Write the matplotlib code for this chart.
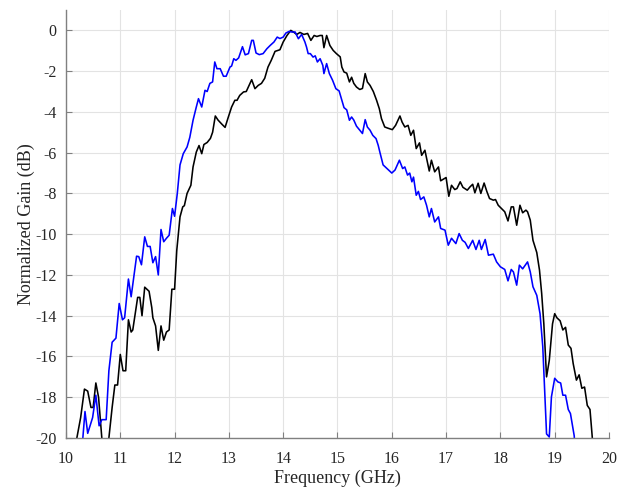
import numpy as np
import matplotlib
matplotlib.use('Agg')
import matplotlib.pyplot as plt

# Courbe noire (fréquence GHz, gain normalisé dB)
freq_black = [10.10, 10.20, 10.27, 10.34, 10.40, 10.46, 10.50, 10.55, 10.60, 10.66, 10.72, 10.79,
              10.85, 10.90, 10.95, 11.00, 11.05, 11.10, 11.15, 11.20, 11.23, 11.32, 11.36, 11.40,
              11.45, 11.53, 11.58, 11.60, 11.65, 11.70, 11.75, 11.80, 11.85, 11.90, 11.95, 12.00,
              12.04, 12.10, 12.15, 12.18, 12.23, 12.30, 12.34, 12.40, 12.45, 12.50, 12.54, 12.60,
              12.66, 12.70, 12.75, 12.80, 12.87, 12.93, 12.99, 13.05, 13.11, 13.15, 13.20, 13.27,
              13.32, 13.39, 13.42, 13.48, 13.54, 13.60, 13.66, 13.72, 13.78, 13.85, 13.94, 14.00,
              14.07, 14.14, 14.20, 14.25, 14.31, 14.38, 14.45, 14.51, 14.57, 14.62, 14.68, 14.72,
              14.75, 14.80, 14.86, 14.92, 14.98, 15.05, 15.08, 15.12, 15.17, 15.22, 15.26, 15.30,
              15.35, 15.41, 15.46, 15.51, 15.55, 15.60, 15.66, 15.72, 15.77, 15.81, 15.87, 15.93,
              16.01, 16.07, 16.15, 16.19, 16.24, 16.30, 16.35, 16.40, 16.45, 16.51, 16.55, 16.61,
              16.69, 16.73, 16.79, 16.86, 16.90, 17.00, 17.05, 17.10, 17.16, 17.20, 17.26, 17.31,
              17.39, 17.44, 17.49, 17.53, 17.59, 17.64, 17.70, 17.75, 17.80, 17.87, 17.91, 17.96,
              18.02, 18.08, 18.14, 18.20, 18.24, 18.30, 18.36, 18.41, 18.47, 18.50, 18.55, 18.60,
              18.67, 18.72, 18.76, 18.80, 18.85, 18.90, 18.96, 19.00, 19.04, 19.10, 19.15, 19.20,
              19.25, 19.30, 19.34, 19.40, 19.45, 19.50, 19.55, 19.60, 19.65, 19.69, 19.72]
gain_black = [-21.0, -20.0, -19.0, -17.6, -17.7, -18.5, -18.5, -17.3, -18.0, -20.0, -21.0, -20.0,
              -18.5, -17.4, -17.4, -15.9, -16.7, -16.7, -14.2, -14.8, -14.7, -13.1, -13.1, -14.0,
              -12.6, -12.8, -13.6, -14.1, -14.5, -15.7, -14.5, -15.2, -14.8, -14.7, -12.7, -12.7,
              -10.8, -9.15, -8.66, -8.6, -8.0, -7.6, -6.7, -5.97, -5.65, -6.05, -5.6, -5.5,
              -5.3, -5.0, -4.2, -4.4, -4.6, -4.76, -4.25, -3.76, -3.43, -3.43, -3.19, -3.02,
              -3.0, -2.6, -2.42, -2.86, -2.7, -2.6, -2.35, -1.8, -1.47, -1.03, -0.95, -0.57,
              -0.25, 0.0, -0.1, -0.2, -0.1, -0.2, -0.15, -0.49, -0.25, -0.3, -0.25, -0.25,
              -0.85, -0.25, -0.74, -0.98, -1.14, -1.3, -1.8, -2.04, -2.1, -2.53, -2.3, -2.6,
              -2.78, -2.9, -2.85, -2.12, -2.53, -2.7, -3.0, -3.43, -3.84, -4.33, -4.74, -4.8,
              -4.87, -4.66, -4.2, -4.5, -4.74, -4.66, -5.15, -4.9, -5.8, -5.52, -6.13, -5.88,
              -6.9, -6.37, -6.94, -6.7, -7.38, -7.22, -8.14, -7.6, -7.81, -7.76, -7.43, -7.7,
              -7.84, -7.68, -7.55, -7.97, -7.5, -8.0, -7.49, -7.9, -8.25, -8.33, -8.3, -8.58,
              -8.74, -8.9, -9.35, -8.66, -8.66, -9.56, -8.58, -8.95, -8.82, -8.9, -9.31, -10.3,
              -10.9, -11.76, -12.9, -14.4, -17.0, -16.2, -14.4, -13.9, -14.1, -14.25, -14.7, -14.57,
              -15.44, -15.6, -16.34, -17.16, -16.9, -17.56, -17.5, -18.4, -18.6, -19.9, -21.0]

# Courbe bleue
freq_blue = [10.28, 10.31, 10.35, 10.40, 10.49, 10.55, 10.61, 10.66, 10.74, 10.79, 10.85, 10.92,
             10.98, 11.04, 11.08, 11.15, 11.20, 11.30, 11.34, 11.39, 11.45, 11.50, 11.55, 11.60,
             11.65, 11.70, 11.75, 11.80, 11.85, 11.90, 11.96, 12.00, 12.05, 12.10, 12.16, 12.23,
             12.28, 12.34, 12.40, 12.44, 12.50, 12.56, 12.60, 12.65, 12.70, 12.74, 12.78, 12.84,
             12.90, 12.95, 13.02, 13.05, 13.09, 13.13, 13.18, 13.25, 13.30, 13.36, 13.42, 13.45,
             13.50, 13.56, 13.63, 13.70, 13.76, 13.83, 13.89, 13.94, 14.00, 14.05, 14.11, 14.16,
             14.22, 14.28, 14.34, 14.40, 14.43, 14.46, 14.50, 14.55, 14.59, 14.63, 14.68, 14.73,
             14.75, 14.80, 14.85, 14.91, 14.97, 15.03, 15.08, 15.12, 15.17, 15.22, 15.26, 15.30,
             15.35, 15.41, 15.46, 15.51, 15.55, 15.60, 15.65, 15.71, 15.75, 15.78, 15.84, 15.90,
             16.00, 16.06, 16.14, 16.20, 16.24, 16.29, 16.33, 16.37, 16.40, 16.45, 16.49, 16.53,
             16.59, 16.64, 16.69, 16.73, 16.79, 16.86, 16.90, 16.98, 17.04, 17.10, 17.18, 17.24,
             17.30, 17.35, 17.41, 17.49, 17.55, 17.61, 17.65, 17.72, 17.78, 17.87, 17.93, 18.00,
             18.08, 18.14, 18.20, 18.24, 18.30, 18.35, 18.41, 18.50, 18.55, 18.60, 18.67, 18.73,
             18.78, 18.82, 18.85, 18.90, 18.94, 19.00, 19.06, 19.11, 19.15, 19.20, 19.25, 19.29,
             19.36, 19.38]
gain_blue = [-21.0, -20.0, -18.7, -19.77, -19.0, -17.9, -19.4, -19.1, -19.1, -16.7, -15.3, -15.1,
             -13.4, -14.2, -14.1, -12.2, -13.07, -11.08, -11.1, -11.5, -10.13, -10.6, -10.6, -11.4,
             -11.1, -12.0, -9.77, -10.37, -10.2, -10.05, -8.74, -9.12, -8.0, -6.6, -6.05, -5.72,
             -5.25, -4.41, -3.76, -3.35, -3.76, -2.94, -3.0, -2.6, -2.53, -1.55, -1.88, -1.88,
             -2.25, -2.25, -1.8, -1.75, -1.39, -1.47, -1.35, -0.8, -1.2, -1.14, -0.49, -0.49,
             -1.11, -1.19, -1.14, -0.9, -0.74, -0.57, -0.33, -0.4, -0.33, -0.13, -0.05, -0.08,
             -0.08, -0.41, -0.2, -0.57, -0.82, -1.14, -1.14, -1.31, -1.25, -1.55, -1.39, -1.72,
             -2.12, -1.63, -2.12, -2.45, -2.86, -2.97, -3.43, -3.79, -3.9, -4.41, -4.25, -4.4,
             -4.7, -4.9, -5.06, -4.38, -4.74, -4.9, -5.15, -5.31, -5.64, -5.97, -6.6, -6.75,
             -7.0, -6.85, -6.37, -6.78, -6.7, -7.1, -7.0, -7.43, -7.2, -8.09, -7.9, -8.3,
             -8.17, -8.58, -9.15, -8.74, -9.4, -9.15, -9.72, -9.8, -10.54, -10.2, -10.46, -9.97,
             -10.3, -10.4, -10.7, -10.3, -10.75, -10.3, -10.75, -10.26, -11.03, -10.98, -11.36, -11.6,
             -11.73, -12.29, -11.73, -11.85, -12.5, -11.52, -11.7, -11.36, -11.85, -12.58, -13.0, -13.9,
             -15.5, -17.98, -19.8, -19.95, -17.98, -17.07, -17.25, -17.3, -17.9, -17.9, -18.6, -18.8,
             -19.9, -21.0]

x_ticks = list(range(10, 21))
y_ticks = list(range(-20, 1, 2))

plt.rcParams['font.family'] = ['Liberation Serif', 'DejaVu Serif']
plt.rcParams['axes.unicode_minus'] = False

fig = plt.figure(figsize=(6.32, 4.90), dpi=100)
ax = fig.add_axes([0.1044, 0.1061, 0.8592, 0.8735])

ax.plot(freq_black, gain_black, color='black', lw=1.15)
ax.plot(freq_blue, gain_blue, color='#0000ff', lw=1.15)

ax.set_xlim(10, 20)
ax.set_ylim(-20, 1)
ax.set_xticks(x_ticks)
ax.set_yticks(y_ticks)
ax.grid(True, color='#e3e3e3', lw=0.8)
ax.set_axisbelow(True)

for s in ['top', 'right']:
    ax.spines[s].set_visible(False)
for s in ['left', 'bottom']:
    ax.spines[s].set_color('#808080')
    ax.spines[s].set_linewidth(1.0)
    ax.spines[s].set_zorder(5)

ax.tick_params(direction='in', length=4, color='#808080', labelcolor='#262626',
               labelsize=11.5)
ax.tick_params(axis='x', pad=9)
ax.tick_params(axis='y', pad=7)
ax.set_xlabel('Frequency (GHz)', fontsize=13, color='#262626', labelpad=2)
ax.set_ylabel('Normalized Gain (dB)', fontsize=13, color='#262626', labelpad=0)

plt.savefig('out.png', dpi=100)
